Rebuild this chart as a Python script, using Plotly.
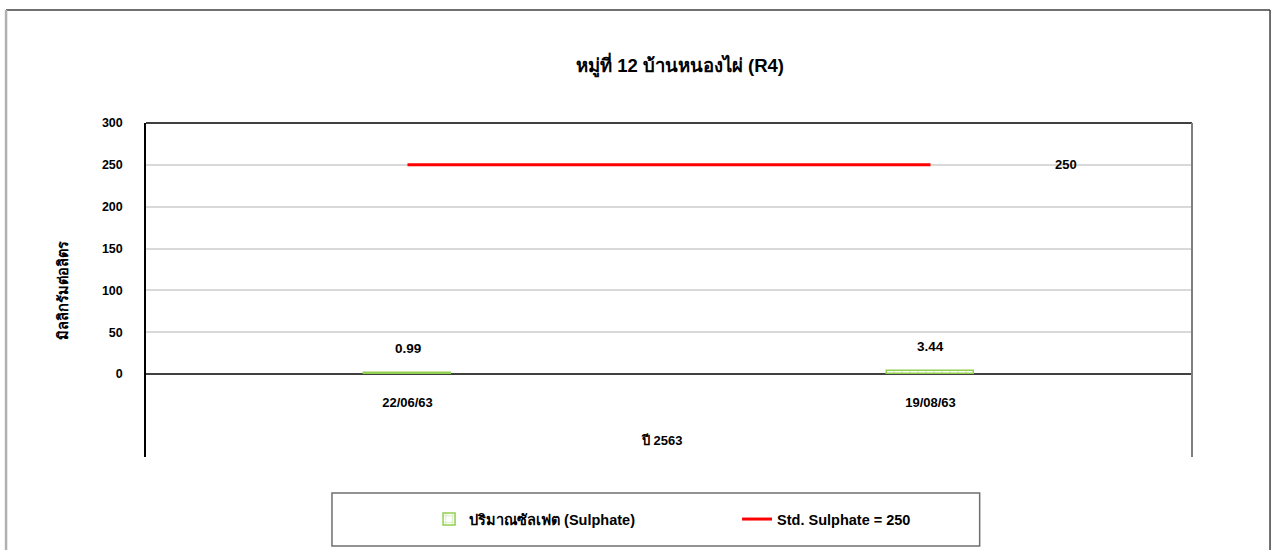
import plotly.graph_objects as go

# Sampling dates (Thai Buddhist-era year 2563) and sulphate results (mg/L)
sample_dates = ["22/06/63", "19/08/63"]
sulphate_values = [0.99, 3.44]
std_sulphate = 250
std_values = [std_sulphate, std_sulphate]

FONT = "Liberation Sans, Arial, Noto Sans, DejaVu Sans, sans-serif"
GREEN = "#92D050"


def bold(size):
    return dict(family=FONT, size=size, color="black", weight="bold")


fig = go.Figure()

fig.add_trace(go.Bar(
    x=sample_dates,
    y=sulphate_values,
    width=0.1665,
    name="ปริมาณซัลเฟต (Sulphate)",
    marker=dict(
        color="white",
        line=dict(color=GREEN, width=1.5),
        pattern=dict(shape="+", fgcolor=GREEN, bgcolor="white", size=8, solidity=0.2),
    ),
    hoverinfo="x+y",
))

fig.add_trace(go.Scatter(
    x=sample_dates,
    y=std_values,
    mode="lines",
    name=f"Std. Sulphate = {std_sulphate}",
    line=dict(color="#FF0000", width=3),
))

# value labels above each bar
for d, v in zip(sample_dates, sulphate_values):
    fig.add_annotation(
        x=d, y=v, xref="x", yref="y", text=f"{v:.2f}", showarrow=False,
        yanchor="bottom", yshift=15, font=bold(13.5),
    )

# standard level label to the right of the line
fig.add_annotation(
    x=1.26, y=std_sulphate, xref="x", yref="y", text=str(std_sulphate), showarrow=False,
    font=bold(13),
)

# x-axis title under the date labels
fig.add_annotation(
    x=0.493, y=0.02, xref="paper", yref="paper", text="ปี 2563", showarrow=False,
    font=bold(13),
)

shapes = [
    # plot frame: top and right edges (open at the bottom)
    dict(type="line", xref="paper", yref="paper", x0=0, x1=1, y0=1, y1=1,
         line=dict(color="black", width=1.5)),
    dict(type="line", xref="paper", yref="paper", x0=1, x1=1, y0=0, y1=1,
         line=dict(color="#7f7f7f", width=2)),
    # legend frame
    dict(type="rect", xref="paper", yref="paper", x0=0.1778, x1=0.797, y0=-0.2665, y1=-0.1078,
         line=dict(color="#6f6f6f", width=1.5), layer="below"),
    # chart border
    dict(type="line", xref="paper", yref="paper", x0=-0.1338, x1=1.0746, y0=1.338, y1=1.338,
         line=dict(color="#404040", width=1.5)),
    dict(type="line", xref="paper", yref="paper", x0=1.0746, x1=1.0746, y0=-0.35, y1=1.338,
         line=dict(color="#404040", width=1.5)),
    dict(type="line", xref="paper", yref="paper", x0=-0.1338, x1=-0.1338, y0=-0.35, y1=1.338,
         line=dict(color="#b0b0b0", width=2.5)),
]

fig.update_layout(
    width=1273, height=550,
    margin=dict(l=146, r=81, t=123, b=93),
    paper_bgcolor="white", plot_bgcolor="white",
    font=dict(family=FONT, size=12, color="black"),
    title=dict(
        text="หมู่ที่ 12 บ้านหนองไผ่ (R4)",
        x=680 / 1273, xanchor="center", y=1 - 66 / 550, yanchor="middle",
        font=bold(18.5),
    ),
    showlegend=True,
    legend=dict(
        orientation="h", x=0.2706, xanchor="left", y=-0.186, yanchor="middle",
        font=bold(14.5),
        bgcolor="rgba(0,0,0,0)", entrywidth=263, traceorder="normal",
    ),
    xaxis=dict(
        type="category", range=[-0.5, 1.5],
        anchor="free", position=0.2485,
        showline=False, showgrid=False, ticks="", zeroline=False,
        tickfont=bold(13),
        ticklabelstandoff=19,
    ),
    yaxis=dict(
        range=[-99.2, 300],
        tickvals=[0, 50, 100, 150, 200, 250, 300],
        showgrid=True, gridcolor="#d9d9d9", gridwidth=1.5,
        zeroline=True, zerolinecolor="#404040", zerolinewidth=2,
        showline=True, linecolor="black", linewidth=1.5,
        ticks="", ticklabelstandoff=19,
        tickfont=bold(12.5),
        title=dict(text="มิลลิกรัมต่อลิตร", standoff=30, font=bold(14.5)),
    ),
    shapes=shapes,
    bargap=0,
)

fig.write_html("out.html")
